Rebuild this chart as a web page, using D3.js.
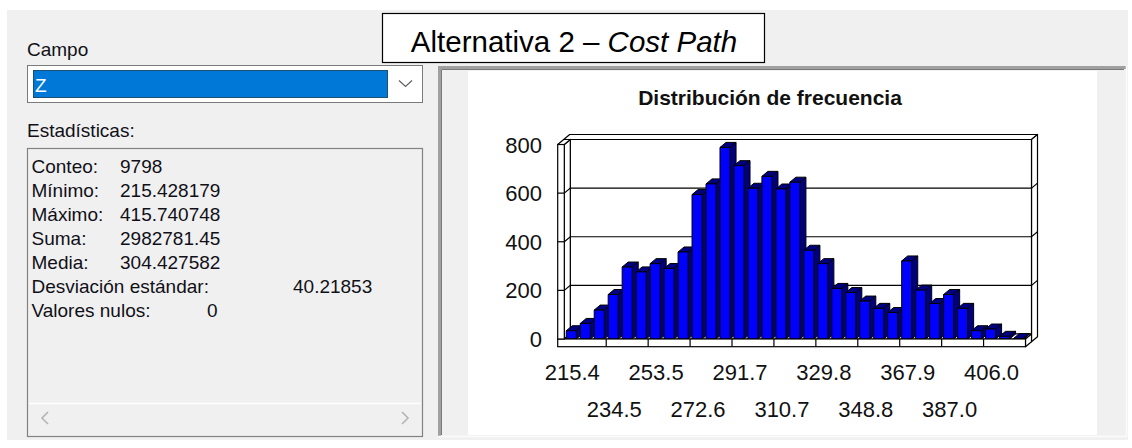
<!DOCTYPE html>
<html>
<head>
<meta charset="utf-8">
<script src="https://cdn.jsdelivr.net/npm/d3@7"></script>
<style>
  html, body { margin: 0; padding: 0; background: #fff; }
  svg { display: block; }
  text { font-family: "Liberation Sans", Arial, sans-serif; }
</style>
</head>
<body>
<div id="chart"></div>
<script>
// Histogram counts per bin
const binCounts = [34, 64, 119, 183, 296, 276, 310, 290, 358, 594, 638, 788, 713, 620,
  669, 617, 645, 365, 310, 208, 191, 156, 126, 109, 321, 201, 146, 183, 126, 34, 41, 11, 2];
const xTickLabels = ["215.4", "234.5", "253.5", "272.6", "291.7", "310.7",
  "329.8", "348.8", "367.9", "387.0", "406.0"];
const yTicks = [0, 200, 400, 600, 800];
const gridValues = [200, 400, 600];

const statLabels = ["Conteo:", "Mínimo:", "Máximo:", "Suma:", "Media:",
  "Desviación estándar:", "Valores nulos:"];
const statValues = ["9798", "215.428179", "415.740748", "2982781.45", "304.427582",
  "40.21853", "0"];

const fieldName = "Z";
const chartTitle = "Distribución de frecuencia";

const W = 1132, H = 448;
const svg = d3.select("#chart").append("svg").attr("width", W).attr("height", H);

// dialog background
svg.append("rect").attr("x", 7).attr("y", 10).attr("width", 1121).attr("height", 430)
  .attr("fill", "#f0f0f0");

// ---------- left panel ----------
const ui = "#101018";
svg.append("text").attr("x", 27).attr("y", 56).attr("font-size", 19).attr("fill", ui)
  .text("Campo");

// combo box
svg.append("rect").attr("x", 27.5).attr("y", 65.5).attr("width", 395).attr("height", 37)
  .attr("fill", "#fff").attr("stroke", "#7a7a7a");
svg.append("rect").attr("x", 33).attr("y", 70).attr("width", 355).attr("height", 28)
  .attr("fill", "#0078d7");
svg.append("rect").attr("x", 33.5).attr("y", 70.5).attr("width", 354).attr("height", 27)
  .attr("fill", "none").attr("stroke", "#3a2a10").attr("stroke-dasharray", "1,1");
svg.append("text").attr("x", 35).attr("y", 92).attr("font-size", 19).attr("fill", "#fff")
  .text(fieldName);
svg.append("path").attr("d", "M399,80.5L405.5,86.5L412,80.5").attr("fill", "none")
  .attr("stroke", "#606060").attr("stroke-width", 1.2);

svg.append("text").attr("x", 27).attr("y", 137).attr("font-size", 19).attr("fill", ui)
  .text("Estadísticas:");

// statistics box
svg.append("rect").attr("x", 27.5).attr("y", 148.5).attr("width", 395).attr("height", 288)
  .attr("fill", "#f0f0f0").attr("stroke", "#828282").attr("stroke-width", 1.2);
svg.append("line").attr("x1", 29).attr("x2", 421).attr("y1", 403.5).attr("y2", 403.5)
  .attr("stroke", "#ffffff").attr("stroke-width", 1.5);
svg.append("path").attr("d", "M48,412L42,418L48,424").attr("fill", "none")
  .attr("stroke", "#b4b4b4").attr("stroke-width", 1.6);
svg.append("path").attr("d", "M402,412L408,418L402,424").attr("fill", "none")
  .attr("stroke", "#b4b4b4").attr("stroke-width", 1.6);

const statValueX = [120, 120, 120, 120, 120, 293, 207];
const statRow = d3.scaleLinear().domain([0, 1]).range([172.5, 196.5]);
const rows = svg.append("g").attr("font-size", 19).attr("fill", ui)
  .selectAll("g").data(statLabels).enter().append("g");
rows.append("text").attr("x", 31.5).attr("y", (d, i) => statRow(i)).text((d) => d);
rows.append("text").attr("x", (d, i) => statValueX[i]).attr("y", (d, i) => statRow(i))
  .text((d, i) => statValues[i]);

// ---------- right panel ----------
svg.append("rect").attr("x", 438).attr("y", 66).attr("width", 689).attr("height", 371)
  .attr("fill", "#f0f0f0");
svg.append("path").attr("d", "M439.5,436V67.5H1126").attr("fill", "none")
  .attr("stroke", "#a0a0a0").attr("stroke-width", 3);
svg.append("path").attr("d", "M441.5,435V69.5H1124").attr("fill", "none")
  .attr("stroke", "#7a7a7a").attr("stroke-width", 1);
svg.append("path").attr("d", "M438,436.5H1126.5V66").attr("fill", "none")
  .attr("stroke", "#fbfbfb").attr("stroke-width", 1.5);
svg.append("rect").attr("x", 468).attr("y", 71).attr("width", 629).attr("height", 364)
  .attr("fill", "#fff");

svg.append("text").attr("x", 770).attr("y", 104.5).attr("text-anchor", "middle")
  .attr("font-size", 21).attr("font-weight", "bold").attr("fill", "#111")
  .text(chartTitle);

// 3D frame geometry
const X0 = 564.3, X1 = 1025.5, WL = 557.7; // inner front-left, front-right, wall outer
const Y0 = 339, YF = 346.7;                // floor top (front), floor bottom
const dx = 6, dy = -5;                     // depth offset
const y = d3.scaleLinear().domain([0, 800]).range([Y0, 144.5]);
const x = d3.scaleBand().domain(d3.range(binCounts.length)).range([X0, X1])
  .paddingInner(0.28).paddingOuter(0.14);
const YT = y(800);

const pts = (arr) => arr.map((p) => p.join(",")).join(" ");
const poly = (g, arr) => g.append("polygon").attr("points", pts(arr));

const frame = svg.append("g").attr("stroke", "#000").attr("stroke-width", 1.2)
  .attr("stroke-linejoin", "round").attr("fill", "#fff");
// back wall slab: top and right faces, then the back plane
poly(frame, [[WL + dx, YT + dy], [X1 + dx, YT + dy], [X1 + 2 * dx, YT + 2 * dy], [WL + 2 * dx, YT + 2 * dy]]);
poly(frame, [[X1 + dx, YT + dy], [X1 + 2 * dx, YT + 2 * dy], [X1 + 2 * dx, YF + 2 * dy], [X1 + dx, YF + dy]]);
frame.append("rect").attr("x", X0 + dx).attr("y", YT + dy).attr("width", X1 - X0)
  .attr("height", Y0 - YT);
// left wall inner face and top
poly(frame, [[X0, YT], [X0 + dx, YT + dy], [X0 + dx, Y0 + dy], [X0, Y0]]);
poly(frame, [[WL, YT], [X0, YT], [X0 + dx, YT + dy], [WL + dx, YT + dy]]);

// gridlines on left wall, back wall and right edge
const grid = svg.append("g").attr("stroke", "#000").attr("stroke-width", 1.2).attr("fill", "none");
gridValues.forEach((v) => {
  grid.append("polyline").attr("points",
    pts([[X0, y(v)], [X0 + dx, y(v) + dy], [X1 + dx, y(v) + dy], [X1 + 2 * dx, y(v) + 2 * dy]]));
});

// floor top and right faces
const floor = svg.append("g").attr("stroke", "#000").attr("stroke-width", 1.2)
  .attr("stroke-linejoin", "round").attr("fill", "#fff");
poly(floor, [[X0, Y0], [X1, Y0], [X1 + dx, Y0 + dy], [X0 + dx, Y0 + dy]]);
poly(floor, [[X1, Y0], [X1 + dx, Y0 + dy], [X1 + dx, YF + dy], [X1, YF]]);

// bars: side face, top face, front face
const bw = x.bandwidth();
const bars = svg.append("g").attr("stroke", "#000").attr("stroke-width", 1)
  .attr("stroke-linejoin", "round")
  .selectAll("g").data(binCounts).enter().append("g")
  .filter((d) => d > 0);
bars.append("polygon").attr("fill", "#000080").attr("points", (d, i) => {
  const r = x(i) + bw, t = y(d);
  return pts([[r, t], [r + dx, t + dy], [r + dx, Y0 + dy], [r, Y0]]);
});
bars.append("polygon").attr("fill", "#000080").attr("points", (d, i) => {
  const l = x(i), r = l + bw, t = y(d);
  return pts([[l, t], [l + dx, t + dy], [r + dx, t + dy], [r, t]]);
});
bars.append("rect").attr("fill", "#0000ff")
  .attr("x", (d, i) => x(i)).attr("width", bw)
  .attr("y", (d) => y(d)).attr("height", (d) => Y0 - y(d));

// floor front face with ticks, left wall front face with ticks
const front = svg.append("g").attr("stroke", "#000").attr("stroke-width", 1.2).attr("fill", "#fff");
front.append("rect").attr("x", WL).attr("y", Y0).attr("width", X1 - WL).attr("height", YF - Y0);
front.append("rect").attr("x", WL).attr("y", YT).attr("width", X0 - WL).attr("height", Y0 - YT);
d3.range(3, binCounts.length, 3).forEach((k) => {
  const tx = X0 + k * x.step();
  front.append("line").attr("x1", tx).attr("x2", tx).attr("y1", Y0).attr("y2", YF);
});
gridValues.forEach((v) => {
  front.append("line").attr("x1", WL).attr("x2", X0).attr("y1", y(v)).attr("y2", y(v));
});

// axis labels
svg.append("g").attr("font-size", 22).attr("fill", "#111").attr("text-anchor", "end")
  .selectAll("text").data(yTicks).enter().append("text")
  .attr("x", 542).attr("y", (d) => y(d) + 8).text((d) => d);

svg.append("g").attr("font-size", 22).attr("fill", "#111").attr("text-anchor", "middle")
  .selectAll("text").data(xTickLabels).enter().append("text")
  .attr("x", (d, i) => x(i * 3) + bw / 2 + 1)
  .attr("y", (d, i) => (i % 2 === 0 ? 380 : 417))
  .text((d) => d);

// ---------- caption box ----------
svg.append("rect").attr("x", 382.5).attr("y", 13.5).attr("width", 382).attr("height", 49)
  .attr("fill", "#fff").attr("stroke", "#000").attr("stroke-width", 1.2);
const cap = svg.append("text").attr("x", 574).attr("y", 51.5).attr("text-anchor", "middle")
  .attr("font-size", 29.5).attr("fill", "#000");
cap.append("tspan").text("Alternativa 2 – ");
cap.append("tspan").attr("font-style", "italic").text("Cost Path");
</script>
</body>
</html>
